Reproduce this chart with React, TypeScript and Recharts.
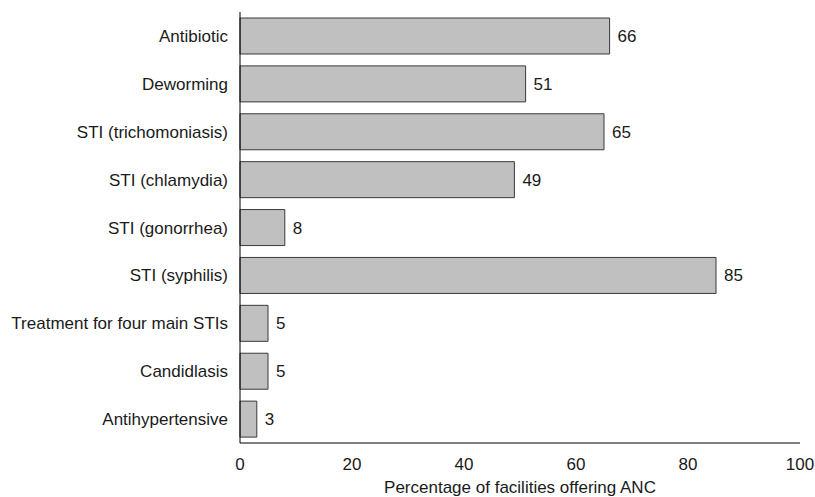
import React from "react";
import { BarChart, Bar, XAxis, YAxis, LabelList } from "recharts";

const categories = [
  "Antibiotic",
  "Deworming",
  "STI (trichomoniasis)",
  "STI (chlamydia)",
  "STI (gonorrhea)",
  "STI (syphilis)",
  "Treatment for four main STIs",
  "Candidlasis",
  "Antihypertensive",
];
const values = [66, 51, 65, 49, 8, 85, 5, 5, 3];
const xTicks = [0, 20, 40, 60, 80, 100];
const xLabel = "Percentage of facilities offering ANC";

const data = categories.map((name, i) => ({ name, value: values[i] }));

const FONT = "'Liberation Sans', Arial, Helvetica, sans-serif";
const TEXT = "#1a1a1a";

export default function App() {
  return (
    <div style={{ position: "absolute", left: 0, top: 0, background: "#fff" }}>
      <BarChart
        width={815}
        height={497}
        data={data}
        layout="vertical"
        margin={{ top: 12, right: 15, bottom: 0, left: 0 }}
        style={{ fontFamily: FONT }}
      >
        <XAxis
          type="number"
          domain={[0, 100]}
          ticks={xTicks}
          height={54}
          tickLine={false}
          tickMargin={9}
          axisLine={{ stroke: "#000", strokeWidth: 1 }}
          tick={{ fill: TEXT, fontSize: 17, fontFamily: FONT }}
          label={{
            value: xLabel,
            position: "insideBottom",
            offset: 4,
            fill: TEXT,
            fontSize: 17,
            fontFamily: FONT,
          }}
        />
        <YAxis
          type="category"
          dataKey="name"
          width={240}
          tickLine={false}
          tickMargin={6}
          axisLine={{ stroke: "#000", strokeWidth: 1 }}
          tick={{ fill: TEXT, fontSize: 17, fontFamily: FONT }}
          interval={0}
        />
        <Bar
          dataKey="value"
          fill="#c0c0c0"
          stroke="#3a3a3a"
          strokeWidth={1}
          barSize={36}
          isAnimationActive={false}
        >
          <LabelList
            dataKey="value"
            position="right"
            offset={8}
            fill={TEXT}
            fontSize={17}
            fontFamily={FONT}
          />
        </Bar>
      </BarChart>
    </div>
  );
}
